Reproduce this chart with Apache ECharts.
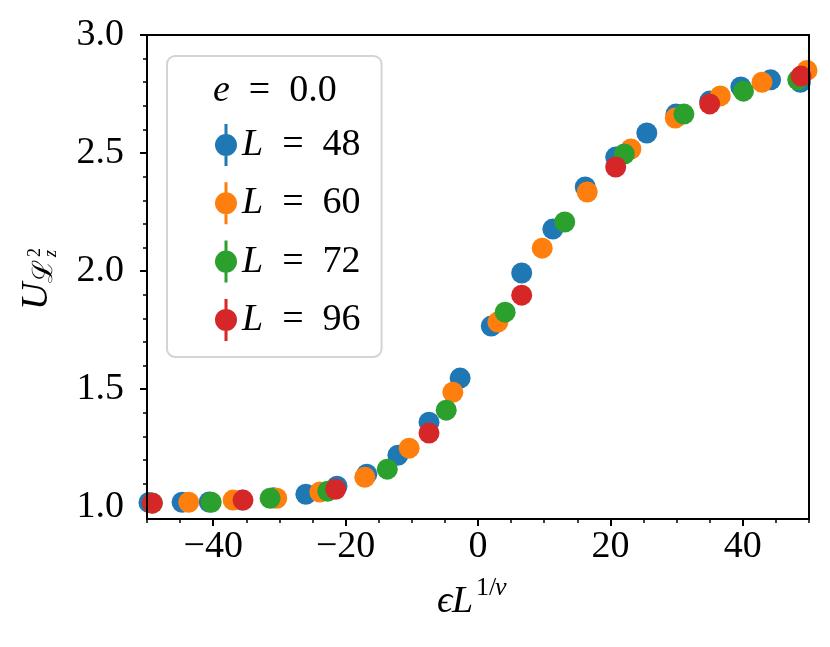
<!DOCTYPE html>
<html>
<head>
<meta charset="utf-8">
<script src="https://cdn.jsdelivr.net/npm/echarts@6/dist/echarts.min.js"></script>
<style>html,body{margin:0;padding:0;background:#fff;}#c{width:830px;height:647px;}</style>
</head>
<body>
<div id="c"></div>
<script>
// ---- data ----
const xL48 = [-49.7, -44.7, -40.6, -35.6, -30.9, -26.0, -21.3, -16.8, -12.1, -7.4, -2.7, 2.0, 6.6, 11.3, 16.2, 20.8, 25.5, 29.9, 35.0, 39.7, 44.2, 48.7];
const yL48 = [1.02, 1.021, 1.022, 1.03, 1.04, 1.055, 1.089, 1.14, 1.22, 1.36, 1.547, 1.767, 1.992, 2.178, 2.356, 2.483, 2.585, 2.665, 2.72, 2.78, 2.81, 2.80];
const xL60 = [-43.7, -37.0, -30.4, -23.9, -17.1, -10.4, -3.8, 3.0, 9.7, 16.5, 23.1, 29.8, 36.6, 42.9, 49.7];
const yL60 = [1.021, 1.030, 1.038, 1.064, 1.127, 1.250, 1.487, 1.784, 2.097, 2.335, 2.517, 2.648, 2.742, 2.80, 2.85];
const xL72 = [-49.2, -40.3, -31.4, -22.7, -13.7, -4.8, 4.1, 13.1, 22.1, 31.1, 40.1, 48.3];
const yL72 = [1.018, 1.021, 1.038, 1.068, 1.161, 1.411, 1.826, 2.208, 2.496, 2.665, 2.762, 2.81];
const xL96 = [-49.2, -35.5, -21.5, -7.4, 6.6, 20.8, 35.0, 48.8];
const yL96 = [1.017, 1.030, 1.076, 1.314, 1.898, 2.441, 2.708, 2.826];
const sizes = ['48', '60', '72', '96'];
const colors = ['#1f77b4', '#ff7f0e', '#2ca02c', '#d62728'];
const xTicksMajor = [-40, -20, 0, 20, 40];
const yTicksMajor = [1.0, 1.5, 2.0, 2.5, 3.0];
const legendTitle = '0.0';

const FONT = 'Liberation Serif, DejaVu Serif, serif';
const xs = [xL48, xL60, xL72, xL96];
const ys = [yL48, yL60, yL72, yL96];

const chart = echarts.init(document.getElementById('c'), null, {renderer: 'canvas'});
const minus = v => (v < 0 ? '\u2212' + Math.abs(v) : String(v));

const series = sizes.map((s, k) => ({
  type: 'scatter',
  name: s,
  xAxisIndex: 0, yAxisIndex: 0,
  symbol: 'circle',
  symbolSize: 21,
  itemStyle: {color: colors[k], opacity: 1},
  data: xs[k].map((x, i) => [x, ys[k][i]]),
  z: 2 + k
}));

const option = {
  animation: false,
  backgroundColor: '#fff',
  grid: [
    {left: 147, right: 21, top: 35, bottom: 128, show: true, borderColor: '#000', borderWidth: 2, backgroundColor: 'transparent', z: 10},
    {left: 213.2, right: 87.2, top: 35, bottom: 128},
    {left: 147, right: 21, top: 35, bottom: 139.8}
  ],
  xAxis: [
    {gridIndex: 0, type: 'value', min: -50, max: 50, interval: 5,
     axisLine: {show: false}, axisTick: {show: true, length: 4, lineStyle: {color: '#000', width: 1.5}},
     axisLabel: {show: false}, splitLine: {show: false}},
    {gridIndex: 1, type: 'value', min: xTicksMajor[0], max: xTicksMajor[xTicksMajor.length - 1], interval: 20,
     axisLine: {show: false}, axisTick: {show: true, length: 7, lineStyle: {color: '#000', width: 2}},
     axisLabel: {show: true, fontSize: 38, fontFamily: FONT, color: '#000', margin: 9, formatter: minus},
     splitLine: {show: false}},
    {gridIndex: 2, type: 'value', min: 0, max: 1, show: false}
  ],
  yAxis: [
    {gridIndex: 0, type: 'value', min: 0.95, max: 3.0,
     axisLine: {show: false}, axisTick: {show: false}, axisLabel: {show: false}, splitLine: {show: false}},
    {gridIndex: 1, type: 'value', min: 0, max: 1, show: false},
    {gridIndex: 2, type: 'value', min: yTicksMajor[0], max: yTicksMajor[yTicksMajor.length - 1], interval: 0.5,
     axisLine: {show: false},
     axisTick: {show: true, length: 7, lineStyle: {color: '#000', width: 2}},
     minorTick: {show: true, splitNumber: 5, length: 4, lineStyle: {color: '#000', width: 1.5}},
     axisLabel: {show: true, fontSize: 38, fontFamily: FONT, color: '#000', margin: 23, formatter: v => v.toFixed(1)},
     splitLine: {show: false}, minorSplitLine: {show: false}}
  ],
  legend: {
    orient: 'vertical',
    left: 167, top: 56,
    padding: [68, 21, 16, 48],
    itemWidth: 22, itemHeight: 42, itemGap: 16.3,
    icon: 'path://M9.5,0H12.5V42H9.5Z M0,21A11,11 0 1,1 22,21A11,11 0 1,1 0,21Z',
    backgroundColor: 'rgba(255,255,255,0.8)',
    borderColor: '#d4d4d4', borderWidth: 2, borderRadius: 8,
    selectedMode: false,
    data: sizes,
    formatter: name => '{i|L}\u2002=\u2002' + name,
    textStyle: {fontSize: 38, fontFamily: FONT, color: '#000', lineHeight: 42,
      rich: {i: {fontStyle: 'italic', fontSize: 38, fontFamily: FONT, color: '#000', lineHeight: 42}}}
  },
  graphic: [
    {type: 'text', x: 213, y: 91, z: 100,
     style: {text: '{i|e}\u2002=\u2002' + legendTitle, fill: '#000', font: '38px ' + FONT, verticalAlign: 'middle', align: 'left',
       rich: {i: {fontStyle: 'italic', fontSize: 38, fontFamily: FONT}}}},
    // x-axis label: ϵL^{1/ν}
    {type: 'group', x: 0, y: 0, z: 100, children: [
      {type: 'text', x: 437, y: 602, style: {text: '\u03f5', fill: '#000', font: 'italic 38px ' + FONT, verticalAlign: 'middle', align: 'left'}},
      {type: 'text', x: 452, y: 602, style: {text: 'L', fill: '#000', font: 'italic 38px ' + FONT, verticalAlign: 'middle', align: 'left'}},
      {type: 'text', x: 476, y: 588, style: {text: '1/', fill: '#000', font: '26px ' + FONT, verticalAlign: 'middle', align: 'left'}},
      {type: 'text', x: 495, y: 588, style: {text: '\u03bd', fill: '#000', font: 'italic 26px ' + FONT, verticalAlign: 'middle', align: 'left'}}
    ]},
    // y-axis label: U_{L_z^2}
    {type: 'group', x: 37, y: 277, rotation: Math.PI / 2, z: 100, children: [
      {type: 'text', x: -33, y: 0, style: {text: 'U', fill: '#000', font: 'italic 38px ' + FONT, verticalAlign: 'middle', align: 'left'}},
      {type: 'text', x: -6, y: 8, style: {text: '\u2112', fill: '#000', font: '28px DejaVu Serif, ' + FONT, verticalAlign: 'middle', align: 'left'}},
      {type: 'text', x: 20, y: -2, style: {text: '2', fill: '#000', font: '18px ' + FONT, verticalAlign: 'middle', align: 'left'}},
      {type: 'text', x: 20, y: 14, style: {text: 'z', fill: '#000', font: 'italic 18px ' + FONT, verticalAlign: 'middle', align: 'left'}}
    ]}
  ],
  series: series
};
chart.setOption(option);
</script>
</body>
</html>
